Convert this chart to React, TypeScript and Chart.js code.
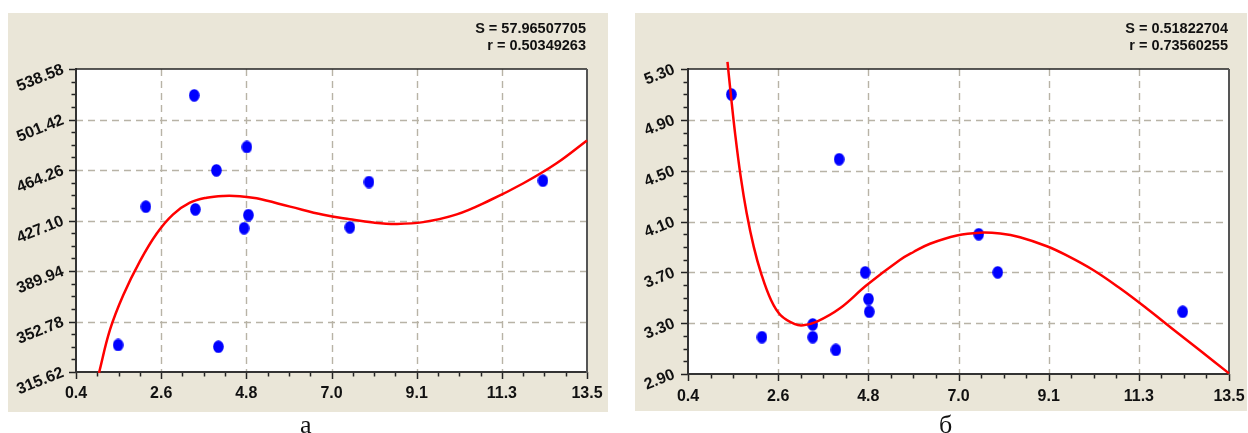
import React, { useEffect, useRef } from "react";
import { Chart, registerables } from "chart.js";

Chart.register(...registerables);

// ---------- data ----------
const xTickValues = [0.4, 2.583, 4.767, 6.95, 9.133, 11.317, 13.5];
const xTickLabels = ["0.4", "2.6", "4.8", "7.0", "9.1", "11.3", "13.5"];

const yTickValuesA = [315.62, 352.78, 389.94, 427.1, 464.26, 501.42, 538.58];
const yTickLabelsA = ["315.62", "352.78", "389.94", "427.10", "464.26", "501.42", "538.58"];
const yTickValuesB = [2.9, 3.3, 3.7, 4.1, 4.5, 4.9, 5.3];
const yTickLabelsB = ["2.90", "3.30", "3.70", "4.10", "4.50", "4.90", "5.30"];

const pointsXA = [1.48, 2.19, 3.43, 3.46, 4.0, 4.05, 4.78, 4.71, 4.82, 7.42, 7.91, 12.37];
const pointsYA = [335.5, 437.3, 519.2, 435.3, 464.0, 334.2, 481.2, 421.4, 431.1, 422.1, 455.4, 456.4];
const curveXA = [0.99, 1.27, 1.61, 2.04, 2.47, 2.89, 3.32, 3.75, 4.18, 4.6, 5.03, 5.89, 6.74, 7.42, 8.02, 8.62, 9.3, 10.16, 11.01, 11.87, 12.72, 13.5];
const curveYA = [315.0, 346.6, 372.1, 397.2, 417.5, 431.6, 440.2, 443.9, 445.2, 445.0, 443.4, 437.3, 431.3, 428.0, 425.6, 424.6, 425.9, 431.6, 442.0, 454.5, 469.2, 486.0];
const statsA = ["S = 57.96507705", "r = 0.50349263"];

const pointsXB = [1.45, 4.06, 2.19, 3.42, 3.42, 3.98, 4.69, 4.77, 4.79, 7.44, 7.9, 12.38];
const pointsYB = [5.1, 4.59, 3.19, 3.29, 3.19, 3.09, 3.7, 3.49, 3.39, 4.0, 3.7, 3.39];
const curveXB = [1.356, 1.434, 1.54, 1.676, 1.821, 1.991, 2.17, 2.41, 2.64, 2.99, 3.19, 3.52, 4.08, 4.73, 5.53, 5.86, 6.26, 6.91, 7.47, 7.96, 8.44, 9.09, 9.57, 10.21, 10.86, 11.51, 12.15, 12.8, 13.5];
const curveYB = [5.357, 5.109, 4.794, 4.453, 4.165, 3.902, 3.692, 3.482, 3.364, 3.292, 3.283, 3.312, 3.417, 3.6, 3.797, 3.86, 3.925, 3.99, 4.012, 4.005, 3.976, 3.905, 3.833, 3.718, 3.574, 3.415, 3.25, 3.085, 2.905];
const statsB = ["S = 0.51822704", "r = 0.73560255"];

const captionA = "а";
const captionB = "б";

// ---------- styling ----------
const FONT = "'Liberation Sans', Arial, Helvetica, sans-serif";
const BEIGE = "#EAE6D8";

function makeEllipse(): HTMLCanvasElement {
  const c = document.createElement("canvas");
  c.width = 11;
  c.height = 13;
  const g = c.getContext("2d")!;
  g.fillStyle = "#0000FF";
  g.beginPath();
  g.ellipse(5.5, 6.5, 5.3, 6.3, 0, 0, Math.PI * 2);
  g.fill();
  return c;
}

const framePlugin = {
  id: "frame",
  beforeDatasetsDraw(chart: any, _args: any, opts: any) {
    const { ctx, chartArea } = chart;
    const { left, top, right, bottom } = chartArea;
    const xs = chart.scales.x;
    const ys = chart.scales.y;
    const xv: number[] = opts.xTicks;
    const yv: number[] = opts.yTicks;
    ctx.save();
    ctx.fillStyle = "#FFFFFF";
    ctx.fillRect(left, top, right - left, bottom - top);

    // dashed grid
    ctx.strokeStyle = "#B8B3A6";
    ctx.lineWidth = 1.4;
    ctx.setLineDash([7, 5]);
    for (let i = 1; i < xv.length - 1; i++) {
      const px = Math.round(xs.getPixelForValue(xv[i])) + 0.5;
      ctx.beginPath();
      ctx.moveTo(px, top);
      ctx.lineTo(px, bottom);
      ctx.stroke();
    }
    for (let i = 1; i < yv.length - 1; i++) {
      const py = Math.round(ys.getPixelForValue(yv[i])) + 0.5;
      ctx.beginPath();
      ctx.moveTo(left, py);
      ctx.lineTo(right, py);
      ctx.stroke();
    }
    ctx.setLineDash([]);

    // ticks
    ctx.strokeStyle = "#222222";
    ctx.lineWidth = 1.5;
    const seg = (x1: number, y1: number, x2: number, y2: number) => {
      ctx.beginPath();
      ctx.moveTo(x1, y1);
      ctx.lineTo(x2, y2);
      ctx.stroke();
    };
    for (let i = 0; i < xv.length; i++) {
      const px = Math.round(xs.getPixelForValue(xv[i])) + 0.5;
      seg(px, bottom, px, bottom + 7);
      if (i < xv.length - 1) {
        for (let k = 1; k < 4; k++) {
          const mx = Math.round(xs.getPixelForValue(xv[i] + ((xv[i + 1] - xv[i]) * k) / 4)) + 0.5;
          seg(mx, bottom, mx, bottom + 4.5);
        }
      }
    }
    for (let i = 0; i < yv.length; i++) {
      const py = Math.round(ys.getPixelForValue(yv[i])) + 0.5;
      seg(left, py, left - 7, py);
      if (i < yv.length - 1) {
        for (let k = 1; k < 4; k++) {
          const my = Math.round(ys.getPixelForValue(yv[i] + ((yv[i + 1] - yv[i]) * k) / 4)) + 0.5;
          seg(left, my, left - 4.5, my);
        }
      }
    }

    // frame
    ctx.lineWidth = 2;
    ctx.strokeStyle = "#333333";
    seg(left, top - 1, left, bottom + 1);
    seg(left - 1, bottom, right + 1, bottom);
    ctx.lineWidth = 1.5;
    ctx.strokeStyle = "#222222";
    seg(left, top, right, top);
    ctx.lineWidth = 2;
    ctx.strokeStyle = "#555555";
    seg(right, top, right, bottom + 1);
    ctx.restore();
  },
  afterDraw(chart: any, _args: any, opts: any) {
    const { ctx, chartArea } = chart;
    ctx.save();
    ctx.fillStyle = "#111111";
    ctx.font = `bold 14.5px ${FONT}`;
    ctx.textAlign = "right";
    ctx.textBaseline = "middle";
    const lines: string[] = opts.stats;
    ctx.fillText(lines[0], chartArea.right - 1, 15.5);
    ctx.fillText(lines[1], chartArea.right - 1, 33);
    ctx.restore();
  },
};

type FitProps = {
  width: number;
  height: number;
  padTop: number;
  padRight: number;
  yAxisWidth: number;
  xAxisHeight: number;
  xLabelGap: number;
  yLabelGap: number;
  yTicks: number[];
  yLabels: string[];
  px: number[];
  py: number[];
  cx: number[];
  cy: number[];
  stats: string[];
  curveClip: any;
};

function FitChart(p: FitProps) {
  const ref = useRef<HTMLCanvasElement>(null);
  useEffect(() => {
    const ellipse = makeEllipse();
    const chart = new Chart(ref.current!, {
      type: "scatter",
      data: {
        datasets: [
          {
            type: "line",
            data: p.cx.map((x, i) => ({ x, y: p.cy[i] })),
            borderColor: "#FF0000",
            borderWidth: 2.5,
            pointRadius: 0,
            showLine: true,
            fill: false,
            tension: 0.4,
            clip: p.curveClip,
          } as any,
          {
            data: p.px.map((x, i) => ({ x, y: p.py[i] })),
            pointStyle: ellipse as any,
            pointRadius: 6,
            backgroundColor: "#0000FF",
            borderColor: "#0000FF",
            clip: 10,
          } as any,
        ],
      },
      options: {
        animation: false,
        responsive: false,
        events: [],
        layout: { padding: { top: p.padTop, right: p.padRight, left: 0, bottom: 0 } },
        plugins: {
          legend: { display: false },
          tooltip: { enabled: false },
          frame: { xTicks: xTickValues, yTicks: p.yTicks, stats: p.stats },
        } as any,
        scales: {
          x: {
            type: "linear",
            min: xTickValues[0],
            max: xTickValues[xTickValues.length - 1],
            afterBuildTicks: (s: any) => {
              s.ticks = xTickValues.map((v) => ({ value: v }));
            },
            afterFit: (s: any) => {
              s.height = p.xAxisHeight;
            },
            grid: { display: false, drawTicks: true, tickLength: p.xLabelGap },
            border: { display: false },
            ticks: {
              autoSkip: false,
              maxRotation: 0,
              minRotation: 0,
              padding: 0,
              color: "#111111",
              font: { family: FONT, size: 16, weight: "bold" },
              callback: (_v: any, i: number) => xTickLabels[i],
            },
          },
          y: {
            type: "linear",
            min: p.yTicks[0],
            max: p.yTicks[p.yTicks.length - 1],
            afterBuildTicks: (s: any) => {
              s.ticks = p.yTicks.map((v) => ({ value: v }));
            },
            afterFit: (s: any) => {
              s.width = p.yAxisWidth;
            },
            grid: { display: false, drawTicks: true, tickLength: p.yLabelGap },
            border: { display: false },
            ticks: {
              autoSkip: false,
              minRotation: 22,
              maxRotation: 22,
              padding: 0,
              color: "#111111",
              font: { family: FONT, size: 16, weight: "bold" },
              callback: (_v: any, i: number) => p.yLabels[i],
            },
          },
        },
      } as any,
      plugins: [framePlugin as any],
    });
    return () => chart.destroy();
  }, []);
  return (
    <canvas
      ref={ref}
      width={p.width}
      height={p.height}
      style={{ display: "block", width: p.width, height: p.height }}
    />
  );
}

const captionStyle: React.CSSProperties = {
  position: "absolute",
  top: 412,
  font: "26px 'Liberation Serif', 'Times New Roman', serif",
  lineHeight: "26px",
  color: "#111",
};

export default function App() {
  return (
    <div
      style={{
        position: "absolute",
        left: 0,
        top: 0,
        width: 1248,
        height: 433,
        overflow: "hidden",
        background: "#FFFFFF",
      }}
    >
      <div style={{ position: "absolute", left: 8, top: 13, width: 600, height: 399, background: BEIGE }}>
        <FitChart
          width={600}
          height={399}
          padTop={56}
          padRight={21}
          yAxisWidth={68}
          xAxisHeight={40}
          xLabelGap={12}
          yLabelGap={13}
          yTicks={yTickValuesA}
          yLabels={yTickLabelsA}
          px={pointsXA}
          py={pointsYA}
          cx={curveXA}
          cy={curveYA}
          stats={statsA}
          curveClip={2}
        />
      </div>
      <div style={{ position: "absolute", left: 635, top: 13, width: 612, height: 398, background: BEIGE }}>
        <FitChart
          width={612}
          height={398}
          padTop={56}
          padRight={18}
          yAxisWidth={53}
          xAxisHeight={37}
          xLabelGap={13}
          yLabelGap={14}
          yTicks={yTickValuesB}
          yLabels={yTickLabelsB}
          px={pointsXB}
          py={pointsYB}
          cx={curveXB}
          cy={curveYB}
          stats={statsB}
          curveClip={{ left: 5, top: 12, right: 5, bottom: 5 }}
        />
      </div>
      <div style={{ ...captionStyle, left: 300 }}>{captionA}</div>
      <div style={{ ...captionStyle, left: 939 }}>{captionB}</div>
    </div>
  );
}
